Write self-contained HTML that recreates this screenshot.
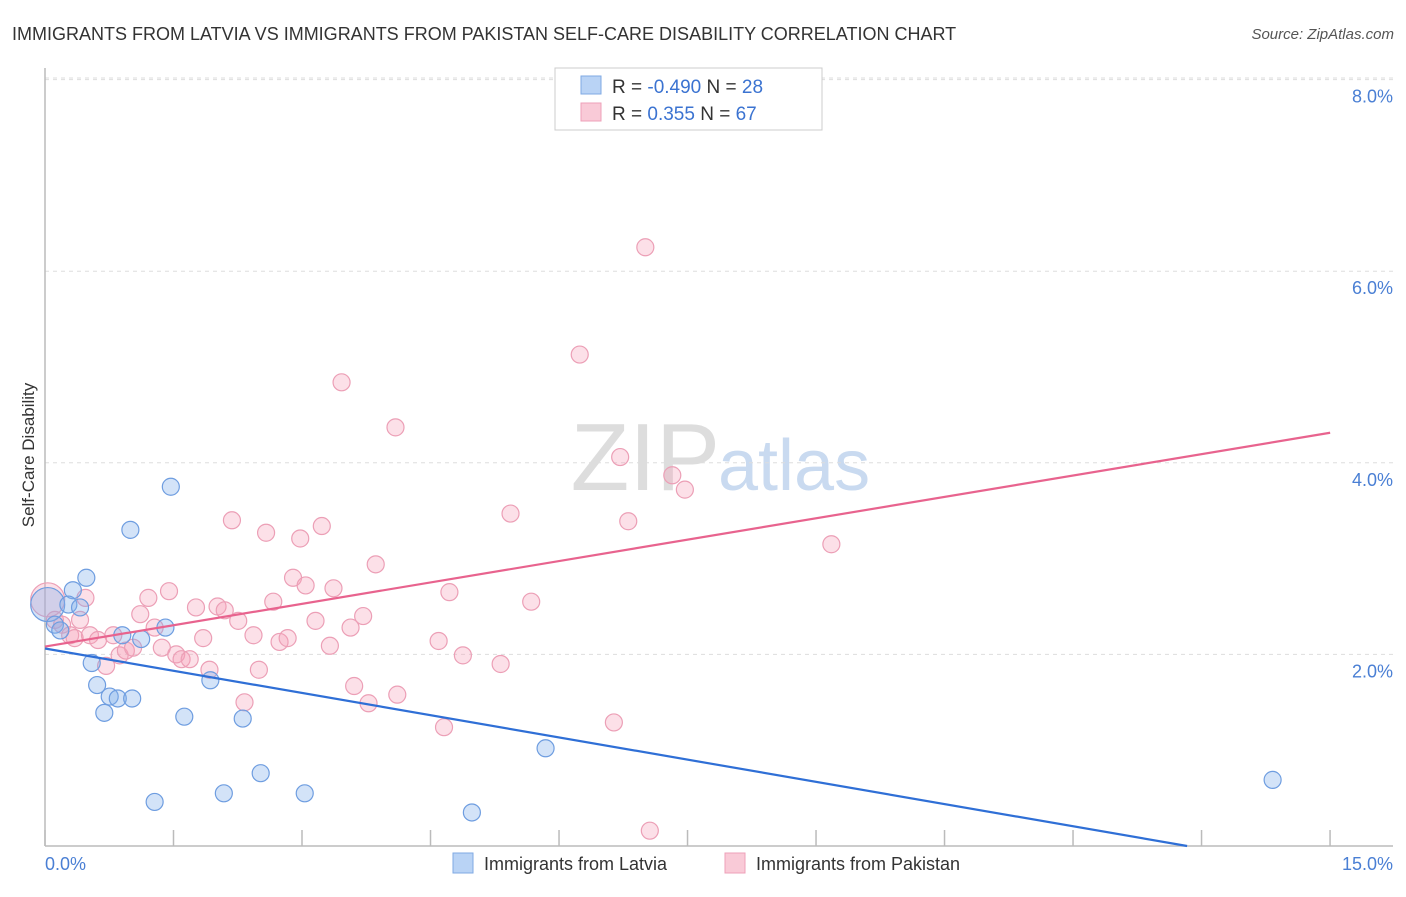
<!DOCTYPE html>
<html><head><meta charset="utf-8"><style>
body{margin:0;background:#fff;font-family:"Liberation Sans",sans-serif}
svg text{font-family:"Liberation Sans",sans-serif}
</style></head><body>
<svg id="c" width="1406" height="892" xmlns="http://www.w3.org/2000/svg">
<text x="12" y="40" font-size="18" fill="#333">IMMIGRANTS FROM LATVIA VS IMMIGRANTS FROM PAKISTAN SELF-CARE DISABILITY CORRELATION CHART</text>
<text x="1394" y="39" font-size="15" fill="#555" text-anchor="end" font-style="italic">Source: ZipAtlas.com</text>
<text x="720" y="490" font-size="96" fill="#ddd" text-anchor="end" font-family="Liberation Serif">ZIP</text>
<text x="718" y="490" font-size="72" fill="#c9daf0">atlas</text>
<g id="grid"></g>
<line x1="45" y1="68" x2="45" y2="846" stroke="#bbb" stroke-width="1.5"/>
<line x1="45" y1="846" x2="1393" y2="846" stroke="#bbb" stroke-width="1.5"/>
<text x="34" y="455" font-size="17" fill="#333" text-anchor="middle" transform="rotate(-90 34 455)">Self-Care Disability</text>
<text x="45" y="870" font-size="18" fill="#4a7fd4">0.0%</text>
<text x="1393" y="870" font-size="18" fill="#4a7fd4" text-anchor="end">15.0%</text>
<g id="marks"></g>
<g>
<rect x="555" y="68" width="267" height="62" fill="#fff" stroke="#ccc"/>
<rect x="581" y="76" width="20" height="18" fill="#b9d3f5" stroke="#7fa9e3"/>
<rect x="581" y="103" width="20" height="18" fill="#f9cad7" stroke="#eea0b8"/>
<text x="612" y="93" font-size="19" fill="#333">R = <tspan fill="#3b73d1">-0.490</tspan>   N = <tspan fill="#3b73d1">28</tspan></text>
<text x="612" y="120" font-size="19" fill="#333">R =   <tspan fill="#3b73d1">0.355</tspan>   N = <tspan fill="#3b73d1">67</tspan></text>
</g>
<g>
<rect x="453" y="853" width="20" height="20" fill="#b9d3f5" stroke="#7fa9e3"/>
<text x="484" y="870" font-size="18" fill="#333">Immigrants from Latvia</text>
<rect x="725" y="853" width="20" height="20" fill="#f9cad7" stroke="#eea0b8"/>
<text x="756" y="870" font-size="18" fill="#333">Immigrants from Pakistan</text>
</g>
</svg>
<script>
const yTicks=[2,4,6,8];
const xTicks=[0,1.5,3,4.5,6,7.5,9,10.5,12,13.5,15];
const latviaX=[0.03,0.11,0.17,0.31,0.26,0.39,0.46,0.52,0.58,0.66,0.72,0.81,0.86,0.97,0.95,1.07,1.22,1.34,1.4,1.55,1.84,1.99,2.2,2.4,2.89,4.75,5.57,13.66];
const latviaY=[2.52,2.31,2.25,2.67,2.52,2.49,2.8,1.91,1.68,1.39,1.56,1.54,2.2,1.54,3.3,2.16,0.46,2.28,3.75,1.35,1.73,0.55,1.33,0.76,0.55,0.35,1.02,0.69];
const pakX=[0.03,0.11,0.19,0.28,0.33,0.39,0.45,0.5,0.59,0.68,0.76,0.83,0.9,0.98,1.06,1.15,1.22,1.3,1.38,1.46,1.52,1.61,1.68,1.76,1.83,1.92,2.0,2.08,2.15,2.22,2.32,2.38,2.46,2.54,2.61,2.7,2.76,2.84,2.9,3.01,3.08,3.17,3.21,3.3,3.4,3.44,3.54,3.6,3.68,3.9,3.92,4.38,4.44,4.5,4.65,5.07,5.18,5.41,5.95,6.33,6.4,6.49,6.68,6.73,6.98,7.12,8.75];
const pakY=[2.57,2.36,2.31,2.2,2.17,2.36,2.59,2.2,2.15,1.88,2.2,1.99,2.04,2.07,2.42,2.59,2.28,2.07,2.66,2.0,1.95,1.95,2.49,2.17,1.84,2.5,2.46,3.4,2.35,1.5,2.2,1.84,3.27,2.55,2.13,2.17,2.8,3.21,2.72,2.35,3.34,2.09,2.69,4.84,2.28,1.67,2.4,1.49,2.94,4.37,1.58,2.14,1.24,2.65,1.99,1.9,3.47,2.55,5.13,1.29,4.06,3.39,6.25,0.16,3.87,3.72,3.15];
const ns="http://www.w3.org/2000/svg";
const sx=v=>45+v*89.87, sy=v=>846-v*95.8;
const g=document.getElementById('grid'), m=document.getElementById('marks');
yTicks.forEach(t=>{
 const l=document.createElementNS(ns,'line');
 l.setAttribute('x1',45);l.setAttribute('x2',1393);l.setAttribute('y1',sy(t));l.setAttribute('y2',sy(t));
 l.setAttribute('stroke','#ddd');l.setAttribute('stroke-dasharray','4,4');
 
 
 g.appendChild(l);
 const tx=document.createElementNS(ns,'text');
 tx.setAttribute('x',1393);tx.setAttribute('y',sy(t)+23);tx.setAttribute('text-anchor','end');
 tx.setAttribute('font-size','18');tx.setAttribute('fill','#4a7fd4');tx.textContent=t.toFixed(1)+'%';
 
 
 g.appendChild(tx);
});
const tl=document.createElementNS(ns,'line');
tl.setAttribute('x1',45);tl.setAttribute('x2',1393);tl.setAttribute('y1',78);tl.setAttribute('y2',78);
tl.setAttribute('stroke','#ddd');tl.setAttribute('stroke-dasharray','4,4');


g.appendChild(tl);
xTicks.forEach(t=>{
 const l=document.createElementNS(ns,'line');
 const x=45+t*85.67;
 l.setAttribute('x1',x);l.setAttribute('x2',x);l.setAttribute('y1',830);l.setAttribute('y2',846);
 l.setAttribute('stroke','#bbb');l.setAttribute('stroke-width','1.5');
 
 
 g.appendChild(l);
});
function dots(X,Y,fill,stroke,name){
 X.forEach((x,i)=>{
  const c=document.createElementNS(ns,'circle');
  c.setAttribute('cx',sx(x));c.setAttribute('cy',sy(Y[i]));c.setAttribute('r',i==0?17:8.5);
  c.setAttribute('fill',fill);c.setAttribute('stroke',stroke);c.setAttribute('stroke-width','1.2');
  
  
  m.appendChild(c);
 });
}
dots(pakX,pakY,'rgba(245,160,185,0.32)','#ec9fb6','pakistan-point');
dots(latviaX,latviaY,'rgba(130,175,235,0.35)','#6e9de0','latvia-point');
function fit(X,Y,x0,x1,color,name){
 const n=X.length,mx=X.reduce((a,b)=>a+b)/n,my=Y.reduce((a,b)=>a+b)/n;
 let sxy=0,sxx=0;X.forEach((x,i)=>{sxy+=(x-mx)*(Y[i]-my);sxx+=(x-mx)**2});
 const b=sxy/sxx,a=my-b*mx;
 let xe=x1; if(a+b*xe<0) xe=-a/b;
 const l=document.createElementNS(ns,'line');
 l.setAttribute('x1',sx(x0));l.setAttribute('y1',sy(a+b*x0));l.setAttribute('x2',sx(xe));l.setAttribute('y2',sy(a+b*xe));
 l.setAttribute('stroke',color);l.setAttribute('stroke-width','2.2');
 
 
 m.appendChild(l);
}
fit(latviaX,latviaY,0,14.3,'#2f6fd6','latvia-trend-line');
fit(pakX,pakY,0,14.3,'#e8638e','pakistan-trend-line');
</script>
</body></html>
